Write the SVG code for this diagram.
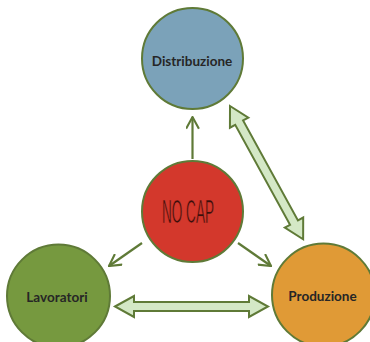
<svg xmlns="http://www.w3.org/2000/svg" width="370" height="342" viewBox="0 0 370 342">
  <style>
    .node { stroke: #5F7A37; stroke-width: 2; }
    .lbl { font-family: Lato, "Open Sans", sans-serif; font-weight: bold; font-size: 13.5px; fill: #262626; text-anchor: middle; }
    .thin { fill: none; stroke: #5F7A37; stroke-width: 2.2; }
    .block { fill: #D4E8C6; stroke: #5F7A37; stroke-width: 2; stroke-linejoin: miter; }
    .nocap { font-family: "Liberation Sans", Arial, sans-serif; font-size: 33px; fill: #3a0f0b; stroke: #D3382C; stroke-width: 0.7; text-anchor: middle; }
  </style>
  <defs>
    <marker id="chev" markerWidth="14" markerHeight="14" viewBox="0 0 12 12" refX="11" refY="6" orient="auto" markerUnits="userSpaceOnUse">
      <path d="M1,0.5 L11,6 L1,11.5" fill="none" stroke="#5F7A37" stroke-width="1.8"/>
    </marker>
  </defs>
  <rect width="370" height="342" fill="#FFFFFF"/>
  <g id="connectors">
    <line class="thin" x1="192.5" y1="159" x2="192.5" y2="117" marker-end="url(#chev)"/>
    <line class="thin" x1="142" y1="243" x2="109" y2="266" marker-end="url(#chev)"/>
    <line class="thin" x1="238" y1="243" x2="271" y2="266" marker-end="url(#chev)"/>
    <polygon class="block" points="115,306.5 134,296 134,302 249,302 249,296 268,306.5 249,317 249,311 134,311 134,317"/>
    <polygon class="block" transform="translate(230,106) rotate(61.24)" points="0,0 19,-10.5 19,-4.5 133,-4.5 133,-10.5 152,0 133,10.5 133,4.5 19,4.5 19,10.5"/>
  </g>
  <g id="distribuzione">
    <circle class="node" cx="192.5" cy="58.5" r="50.5" fill="#7BA2B9"/>
    <text class="lbl" x="192" y="66">Distribuzione</text>
  </g>
  <g id="nocap">
    <circle class="node" cx="192.5" cy="211.5" r="50.5" fill="#D3382C"/>
    <text class="nocap" x="188" y="223" textLength="52" lengthAdjust="spacingAndGlyphs">NO CAP</text>
  </g>
  <g id="lavoratori">
    <circle class="node" cx="58.5" cy="296" r="51.5" fill="#76993F"/>
    <text class="lbl" x="57" y="302">Lavoratori</text>
  </g>
  <g id="produzione">
    <circle class="node" cx="323.5" cy="295" r="51.5" fill="#E09A36"/>
    <text class="lbl" x="322.5" y="301">Produzione</text>
  </g>
</svg>
